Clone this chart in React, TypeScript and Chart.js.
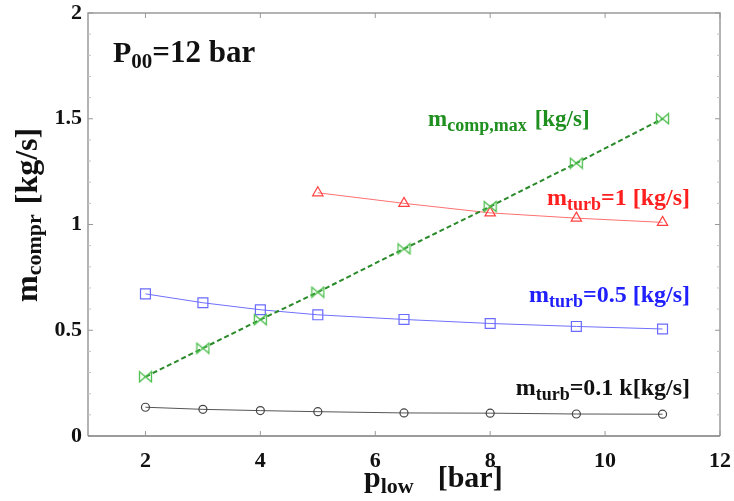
import React, { useEffect, useRef } from 'react';
import { Chart, registerables } from 'chart.js';

Chart.register(...registerables);

// ---- data ----
const pLow = [2, 3, 4, 5, 6.5, 8, 9.5, 11];
const pLowTurb1 = [5, 6.5, 8, 9.5, 11];
const mCompMax = [0.28, 0.415, 0.55, 0.68, 0.885, 1.085, 1.29, 1.5];
const mTurb1 = [1.15, 1.1, 1.055, 1.03, 1.01];
const mTurb05 = [0.672, 0.63, 0.597, 0.573, 0.551, 0.532, 0.518, 0.506];
const mTurb01 = [0.136, 0.126, 0.12, 0.115, 0.109, 0.108, 0.104, 0.103];
const xTicks = [2, 4, 6, 8, 10, 12];
const yTicks = [0, 0.5, 1, 1.5, 2];
const yTickLabels = ['0', '0.5', '1', '1.5', '2'];
const yMinorTicks = [0.1, 0.2, 0.3, 0.4, 0.6, 0.7, 0.8, 0.9, 1.1, 1.2, 1.3, 1.4, 1.6, 1.7, 1.8, 1.9];

const FONT = '"Liberation Serif", "Times New Roman", serif';

type Part = { t: string; size: number; dy?: number; gap?: number };

function richWidth(ctx: CanvasRenderingContext2D, parts: Part[]) {
  let w = 0;
  for (const p of parts) {
    ctx.font = `bold ${p.size}px ${FONT}`;
    w += ctx.measureText(p.t).width + (p.gap || 0);
  }
  return w;
}

function drawRich(
  ctx: CanvasRenderingContext2D,
  parts: Part[],
  x: number,
  y: number,
  align: 'left' | 'right' | 'center',
  color: string
) {
  const w = richWidth(ctx, parts);
  let cx = align === 'right' ? x - w : align === 'center' ? x - w / 2 : x;
  ctx.fillStyle = color;
  ctx.textAlign = 'left';
  ctx.textBaseline = 'alphabetic';
  for (const p of parts) {
    ctx.font = `bold ${p.size}px ${FONT}`;
    ctx.fillText(p.t, cx, y + (p.dy || 0));
    cx += ctx.measureText(p.t).width + (p.gap || 0);
  }
}

function makeBowtie(color: string) {
  const c = document.createElement('canvas');
  c.width = 15;
  c.height = 13;
  const g = c.getContext('2d')!;
  g.strokeStyle = color;
  g.lineWidth = 1.3;
  g.beginPath();
  g.moveTo(1.5, 1.5);
  g.lineTo(13.5, 11.5);
  g.lineTo(13.5, 1.5);
  g.lineTo(1.5, 11.5);
  g.closePath();
  g.stroke();
  return c;
}

const framePlugin = {
  id: 'framePlugin',
  afterDraw(chart: any) {
    const ctx: CanvasRenderingContext2D = chart.ctx;
    const { left, right, top, bottom } = chart.chartArea;
    const xs = chart.scales.x;
    const ys = chart.scales.y;
    ctx.save();
    // frame
    ctx.lineWidth = 1.5;
    ctx.strokeStyle = '#9a9a9a';
    ctx.beginPath();
    ctx.moveTo(left, bottom);
    ctx.lineTo(left, top);
    ctx.lineTo(right, top);
    ctx.lineTo(right, bottom);
    ctx.stroke();
    ctx.strokeStyle = '#7a7a7a';
    ctx.beginPath();
    ctx.moveTo(left, bottom);
    ctx.lineTo(right, bottom);
    ctx.stroke();
    // ticks
    ctx.lineWidth = 1;
    ctx.strokeStyle = '#999';
    ctx.beginPath();
    for (const v of xTicks) {
      const px = xs.getPixelForValue(v);
      ctx.moveTo(px, bottom);
      ctx.lineTo(px, bottom - 5);
      ctx.moveTo(px, top);
      ctx.lineTo(px, top + 5);
    }
    for (const v of yTicks) {
      const py = ys.getPixelForValue(v);
      ctx.moveTo(left, py);
      ctx.lineTo(left + 5, py);
      ctx.moveTo(right, py);
      ctx.lineTo(right - 5, py);
    }
    ctx.stroke();
    ctx.strokeStyle = '#c4c4c4';
    ctx.beginPath();
    for (const v of yMinorTicks) {
      const py = ys.getPixelForValue(v);
      ctx.moveTo(left, py);
      ctx.lineTo(left + 3, py);
      ctx.moveTo(right, py);
      ctx.lineTo(right - 3, py);
    }
    ctx.stroke();

    // annotations
    drawRich(ctx, [
      { t: 'P', size: 30 },
      { t: '00', size: 21, dy: 6 },
      { t: '=12 bar', size: 31 },
    ], 113, 62, 'left', '#111');

    drawRich(ctx, [
      { t: 'm', size: 23 },
      { t: 'comp,max', size: 18, dy: 5, gap: 8 },
      { t: '[kg/s]', size: 23 },
    ], 428, 126, 'left', '#1f8f1f');

    drawRich(ctx, [
      { t: 'm', size: 24 },
      { t: 'turb', size: 18, dy: 5 },
      { t: '=1 [kg/s]', size: 24 },
    ], 690, 205, 'right', '#ff1f1f');

    drawRich(ctx, [
      { t: 'm', size: 24 },
      { t: 'turb', size: 18, dy: 5 },
      { t: '=0.5 [kg/s]', size: 24 },
    ], 690, 302, 'right', '#2020ff');

    drawRich(ctx, [
      { t: 'm', size: 24 },
      { t: 'turb', size: 18, dy: 5 },
      { t: '=0.1 k[kg/s]', size: 24 },
    ], 690, 395, 'right', '#111');

    // x title
    drawRich(ctx, [
      { t: 'p', size: 30 },
      { t: 'low', size: 22, dy: 6, gap: 24 },
      { t: '[bar]', size: 30 },
    ], 364, 487, 'left', '#111');

    // y title
    ctx.save();
    ctx.translate(37, 302);
    ctx.rotate(-Math.PI / 2);
    drawRich(ctx, [
      { t: 'm', size: 32 },
      { t: 'compr', size: 22, dy: 4, gap: 10 },
      { t: '[kg/s]', size: 32 },
    ], 0, 0, 'left', '#111');
    ctx.restore();

    ctx.restore();
  },
};

export default function App() {
  const ref = useRef<HTMLCanvasElement>(null);
  useEffect(() => {
    document.body.style.margin = '0';
    const bowtie = makeBowtie('#4fbf4f');
    const chart = new Chart(ref.current!, {
      type: 'line',
      data: {
        datasets: [
          {
            data: pLow.map((x, i) => ({ x, y: mCompMax[i] })),
            borderColor: '#2a8a2a',
            borderWidth: 2,
            borderDash: [5, 3],
            pointStyle: bowtie as any,
            pointRadius: 6,
            order: 0,
          },
          {
            data: pLowTurb1.map((x, i) => ({ x, y: mTurb1[i] })),
            borderColor: '#ff7070',
            borderWidth: 1,
            pointStyle: 'triangle',
            pointRadius: 6,
            pointBorderColor: '#ff4040',
            pointBackgroundColor: 'rgba(255,255,255,0)',
            pointBorderWidth: 1.2,
            order: 1,
          },
          {
            data: pLow.map((x, i) => ({ x, y: mTurb05[i] })),
            borderColor: '#6f6fff',
            borderWidth: 1,
            pointStyle: 'rect',
            pointRadius: 7,
            pointBorderColor: '#6a6aff',
            pointBackgroundColor: 'rgba(255,255,255,0)',
            pointBorderWidth: 1.2,
            order: 1,
          },
          {
            data: pLow.map((x, i) => ({ x, y: mTurb01[i] })),
            borderColor: '#555',
            borderWidth: 1,
            pointStyle: 'circle',
            pointRadius: 4,
            pointBorderColor: '#444',
            pointBackgroundColor: 'rgba(255,255,255,0)',
            pointBorderWidth: 1.2,
            order: 1,
          },
        ],
      },
      options: {
        responsive: false,
        animation: false,
        layout: { padding: { top: 13, right: 14, left: 0, bottom: 0 } },
        elements: { line: { tension: 0 } },
        plugins: { legend: { display: false }, tooltip: { enabled: false } },
        scales: {
          x: {
            type: 'linear',
            min: 1,
            max: 12,
            afterBuildTicks: (s: any) => {
              s.ticks = xTicks.map((v) => ({ value: v }));
            },
            afterFit: (s: any) => {
              s.height = 65;
              s.paddingLeft = 0;
              s.paddingRight = 0;
            },
            grid: { display: false, drawTicks: false },
            border: { display: false },
            ticks: {
              font: { family: FONT, size: 22, weight: 'bold' },
              color: '#111',
              padding: 12,
              maxRotation: 0,
              autoSkip: false,
            },
          },
          y: {
            type: 'linear',
            min: 0,
            max: 2,
            afterBuildTicks: (s: any) => {
              s.ticks = yTicks.map((v) => ({ value: v }));
            },
            afterFit: (s: any) => {
              s.width = 88;
              s.paddingTop = 0;
              s.paddingBottom = 0;
            },
            grid: { display: false, drawTicks: false },
            border: { display: false },
            ticks: {
              font: { family: FONT, size: 22, weight: 'bold' },
              color: '#111',
              padding: 6,
              autoSkip: false,
              callback: (v: any) => {
                const i = yTicks.indexOf(Number(v));
                return i >= 0 ? yTickLabels[i] : '';
              },
            },
          },
        },
      },
      plugins: [framePlugin],
    } as any);
    return () => chart.destroy();
  }, []);
  return (
    <div style={{ width: 734, height: 501 }}>
      <canvas ref={ref} width={734} height={501} />
    </div>
  );
}
